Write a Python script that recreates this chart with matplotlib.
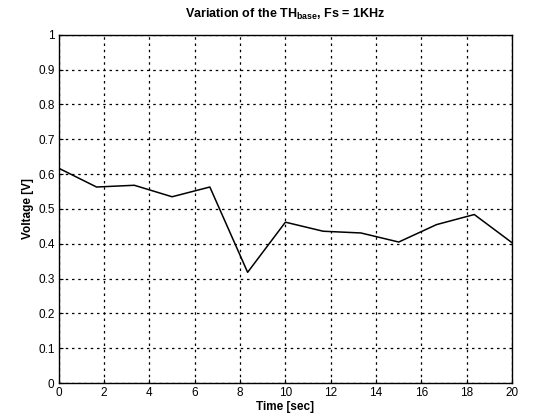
import numpy as np
import matplotlib
matplotlib.use("Agg")
import matplotlib.pyplot as plt

# Dados (13 amostras em 20 s)
time_sec = np.linspace(0, 20, 13)
voltage = [0.617, 0.563, 0.568, 0.535, 0.563, 0.318, 0.462,
           0.436, 0.431, 0.405, 0.455, 0.484, 0.403]

x_ticks = [0, 2, 4, 6, 8, 10, 12, 14, 16, 18, 20]
y_ticks = [0, 0.1, 0.2, 0.3, 0.4, 0.5, 0.6, 0.7, 0.8, 0.9, 1]
y_tick_labels = ["0", "0.1", "0.2", "0.3", "0.4", "0.5", "0.6", "0.7", "0.8", "0.9", "1"]

plt.rcParams['font.family'] = ['Liberation Sans', 'DejaVu Sans']
plt.rcParams['mathtext.fontset'] = 'custom'
plt.rcParams['mathtext.rm'] = 'Liberation Sans'
plt.rcParams['mathtext.bf'] = 'Liberation Sans:bold'

fig = plt.figure(figsize=(5.39, 4.2), dpi=100)
ax = fig.add_axes([0.109, 0.088, 0.841, 0.829])

ax.plot(time_sec, voltage, color='black', linewidth=1.1)

ax.set_xlim(0, 20)
ax.set_ylim(0, 1)
ax.set_xticks(x_ticks)
ax.set_yticks(y_ticks)
ax.set_yticklabels(y_tick_labels)
ax.tick_params(direction='in', length=3, labelsize=8.5, colors='black', pad=3)
ax.grid(True, linestyle=(0, (2, 3)), color='black', linewidth=0.9)

for s in ax.spines.values():
    s.set_linewidth(1.0)
    s.set_color('black')

ax.set_xlabel("Time [sec]", fontsize=8.5, fontweight='bold', labelpad=1)
ax.set_ylabel("Voltage [V]", fontsize=8.5, fontweight='bold', labelpad=3)
ax.set_title(r"Variation of the TH$_{\mathbf{base}}$, Fs = 1KHz",
             fontsize=9, fontweight='bold', pad=12)

fig.savefig("out.png", dpi=100)
